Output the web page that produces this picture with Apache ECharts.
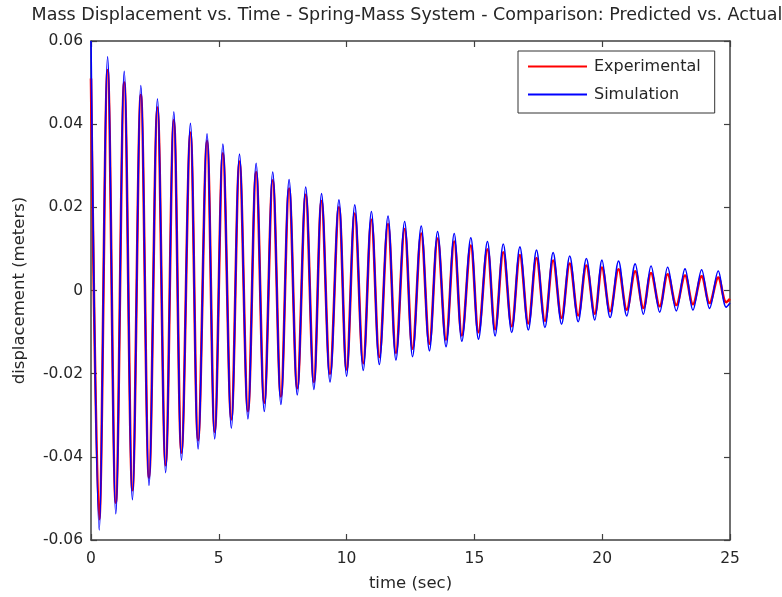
<!DOCTYPE html>
<html>
<head>
<meta charset="utf-8">
<script src="https://cdn.jsdelivr.net/npm/echarts@6/dist/echarts.min.js"></script>
<style>
  html, body { margin: 0; padding: 0; background: #fff; }
  #chart { width: 782px; height: 597px; }
</style>
</head>
<body>
<div id="chart"></div>
<script>
// times (sec) of each peak / trough
const peakTimes = [
  0.00, 0.32, 0.65, 0.97, 1.30, 1.62, 1.95, 2.27, 2.60, 2.92,
  3.24, 3.54, 3.89, 4.19, 4.54, 4.84, 5.16, 5.49, 5.81, 6.14,
  6.46, 6.78, 7.11, 7.43, 7.75, 8.07, 8.40, 8.72, 9.02, 9.35,
  9.70, 10.00, 10.32, 10.65, 10.97, 11.28, 11.62, 11.93, 12.27, 12.58,
  12.92, 13.24, 13.56, 13.89, 14.21, 14.51, 14.86, 15.16, 15.51, 15.81,
  16.13, 16.46, 16.78, 17.11, 17.43, 17.76, 18.08, 18.41, 18.73, 19.06,
  19.38, 19.71, 19.99, 20.31, 20.64, 20.96, 21.29, 21.61, 21.91, 22.25,
  22.56, 22.90, 23.24, 23.55, 23.89, 24.20, 24.54, 24.85, 25.00
];
// displacement (meters) at those times
const simulation = [
  0.0600, -0.0576, 0.0562, -0.0537, 0.0527, -0.0503, 0.0493, -0.0469, 0.0461, -0.0438,
  0.0430, -0.0408, 0.0402, -0.0381, 0.0377, -0.0357, 0.0352, -0.0331, 0.0328, -0.0309,
  0.0306, -0.0291, 0.0285, -0.0274, 0.0267, -0.0251, 0.0249, -0.0238, 0.0233, -0.0220,
  0.0218, -0.0206, 0.0206, -0.0192, 0.0190, -0.0178, 0.0179, -0.0167, 0.0166, -0.0159,
  0.0155, -0.0145, 0.0142, -0.0135, 0.0137, -0.0122, 0.0127, -0.0117, 0.0118, -0.0109,
  0.0112, -0.0101, 0.0105, -0.0095, 0.0097, -0.0089, 0.0091, -0.0081, 0.0083, -0.0075,
  0.0077, -0.0071, 0.0073, -0.0065, 0.0071, -0.0061, 0.0064, -0.0057, 0.0059, -0.0052,
  0.0056, -0.0049, 0.0052, -0.0047, 0.0050, -0.0043, 0.0047, -0.0040, -0.0030
];
const experimental = [
  0.0510, -0.0550, 0.0530, -0.0510, 0.0500, -0.0480, 0.0470, -0.0450, 0.0440, -0.0420,
  0.0410, -0.0390, 0.0380, -0.0360, 0.0360, -0.0340, 0.0330, -0.0310, 0.0310, -0.0290,
  0.0285, -0.0270, 0.0265, -0.0255, 0.0245, -0.0235, 0.0230, -0.0220, 0.0215, -0.0200,
  0.0200, -0.0190, 0.0185, -0.0175, 0.0170, -0.0160, 0.0160, -0.0150, 0.0148, -0.0140,
  0.0137, -0.0128, 0.0125, -0.0118, 0.0118, -0.0108, 0.0108, -0.0100, 0.0099, -0.0093,
  0.0092, -0.0086, 0.0085, -0.0079, 0.0078, -0.0073, 0.0072, -0.0066, 0.0065, -0.0060,
  0.0060, -0.0056, 0.0055, -0.0050, 0.0051, -0.0046, 0.0046, -0.0042, 0.0042, -0.0038,
  0.0039, -0.0035, 0.0036, -0.0033, 0.0034, -0.0030, 0.0031, -0.0028, -0.0020
];
const xTicks = [0, 5, 10, 15, 20, 25];
const yTicks = [-0.06, -0.04, -0.02, 0, 0.02, 0.04, 0.06];

const font = 'DejaVu Sans, sans-serif';
const axisColor = '#404040';
const textColor = '#262626';

function pairs(xs, ys) {
  return xs.map((x, i) => [x, ys[i]]);
}

let chart = echarts.init(document.getElementById('chart'), null, { renderer: 'canvas' });

const axisCommon = {
  axisLine: { show: true, onZero: false, lineStyle: { color: axisColor, width: 1.5 } },
  axisTick: { show: true, inside: true, length: 6, lineStyle: { color: axisColor, width: 1.2 } },
  splitLine: { show: false },
};

chart.setOption({
  backgroundColor: '#fff',
  animation: false,
  title: {
    text: 'Mass Displacement vs. Time - Spring-Mass System - Comparison: Predicted vs. Actual',
    left: 402,
    textAlign: 'center',
    top: 1,
    textStyle: { fontFamily: font, fontSize: 17.5, fontWeight: 'normal', color: textColor },
  },
  grid: { left: 91, right: 52, top: 41, bottom: 53 },
  legend: {
    orient: 'vertical',
    left: 518,
    top: 51,
    padding: [6, 14, 9, 10],
    itemGap: 9,
    itemWidth: 59,
    itemHeight: 2,
    icon: 'rect',
    backgroundColor: '#fff',
    borderColor: '#333',
    borderWidth: 1,
    textStyle: { fontFamily: font, fontSize: 16, color: textColor, lineHeight: 19, padding: [0, 0, 0, 2] },
    data: ['Experimental', 'Simulation'],
  },
  xAxis: [
    Object.assign({
      type: 'value', min: xTicks[0], max: xTicks[xTicks.length - 1], interval: 5,
      name: 'time (sec)', nameLocation: 'middle', nameGap: 35,
      nameTextStyle: { fontFamily: font, fontSize: 16.5, color: textColor },
      axisLabel: { fontFamily: font, fontSize: 15.5, color: textColor, margin: 11 },
    }, axisCommon),
    Object.assign({
      type: 'value', position: 'top', min: xTicks[0], max: xTicks[xTicks.length - 1], interval: 5,
      axisLabel: { show: false },
    }, axisCommon),
  ],
  yAxis: [
    Object.assign({
      type: 'value', min: yTicks[0], max: yTicks[yTicks.length - 1], interval: 0.02,
      name: 'displacement (meters)', nameLocation: 'middle', nameGap: 63,
      nameTextStyle: { fontFamily: font, fontSize: 16.5, color: textColor },
      axisLabel: {
        fontFamily: font, fontSize: 15.5, color: textColor, margin: 8,
        formatter: v => Math.abs(v) < 1e-9 ? '0' : v.toFixed(2),
      },
    }, axisCommon),
    Object.assign({
      type: 'value', position: 'right', min: yTicks[0], max: yTicks[yTicks.length - 1], interval: 0.02,
      axisLabel: { show: false },
    }, axisCommon),
  ],
  series: [
    {
      name: 'Experimental',
      type: 'line',
      color: '#ff0000',
      showSymbol: false,
      smooth: 0.36,
      lineStyle: { width: 2.6, color: '#ff0000' },
      data: pairs(peakTimes, experimental),
    },
    {
      name: 'Simulation',
      type: 'line',
      color: '#0000ff',
      showSymbol: false,
      smooth: 0.36,
      lineStyle: { width: 1.6, color: '#0000ff' },
      data: pairs(peakTimes, simulation),
    },
  ],
});
</script>
</body>
</html>
